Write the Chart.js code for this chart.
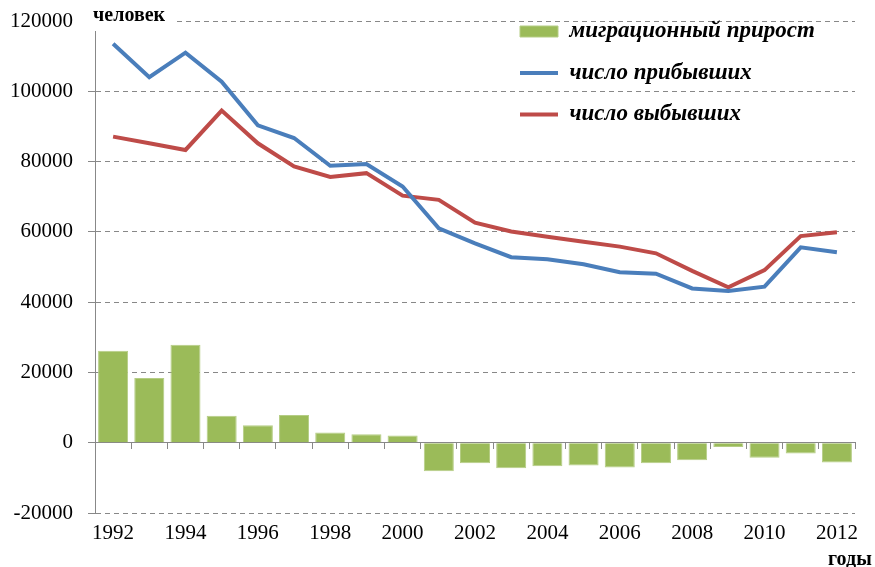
<!DOCTYPE html>
<html>
<head>
<meta charset="utf-8">
<script src="https://cdn.jsdelivr.net/npm/chart.js@4"></script>
<style>
  body { margin: 0; background: #fff; }
</style>
</head>
<body>
<canvas id="migrationChart" width="875" height="567"></canvas>
<script>
const years = ['1992','1993','1994','1995','1996','1997','1998','1999','2000','2001','2002',
               '2003','2004','2005','2006','2007','2008','2009','2010','2011','2012'];
const migrationGain = [26200, 18400, 27900, 7700, 5000, 7900, 2900, 2400, 2050, -8100, -5850,
                       -7250, -6700, -6500, -7050, -5850, -5000, -1200, -4300, -3100, -5650];
const arrivals = [113500, 104000, 111000, 102700, 90300, 86700, 78800, 79300, 72900, 61000, 56700,
                  52800, 52200, 50800, 48500, 48100, 43900, 43200, 44400, 55600, 54200];
const departures = [87100, 85200, 83300, 94500, 85200, 78600, 75600, 76700, 70300, 69100, 62600,
                    60100, 58600, 57200, 55800, 53900, 48900, 44200, 49100, 58800, 59900];
const seriesNames = ['миграционный прирост', 'число прибывших', 'число выбывших'];
const yTitle = 'человек';
const xTitle = 'годы';

const serif = '"Liberation Serif", "Times New Roman", serif';

// titles "человек" / "годы" and legend placement
const extraText = {
    id: 'extraText',
    afterLayout(chart) {
        const lg = chart.legend;
        const pad = lg.options.labels.padding;
        const h = lg.bottom - lg.top;
        const w = lg.right - lg.left;
        lg.left = 520 - pad;
        lg.right = lg.left + w + 300;
        lg.top = 20 - pad;
        lg.bottom = lg.top + h;
    },
    afterDraw(chart) {
        const ctx = chart.ctx;
        ctx.save();
        ctx.fillStyle = '#fff';
        ctx.fillRect(80, 4, 96, 27);
        ctx.fillStyle = '#000';
        ctx.font = 'bold 20px ' + serif;
        ctx.textBaseline = 'middle';
        ctx.fillText(yTitle, 93, 16);
        ctx.fillText(xTitle, 828, 560);
        ctx.restore();
    }
};

try {
    new Chart(document.getElementById('migrationChart'), {
        type: 'bar',
        data: {
            labels: years,
            datasets: [{
                label: seriesNames[0],
                data: migrationGain,
                backgroundColor: '#9BBB59',
                borderColor: '#B5CD85',
                borderWidth: 1,
                barPercentage: 1,
                categoryPercentage: 0.83
            }, {
                type: 'line',
                label: seriesNames[1],
                data: arrivals,
                borderColor: '#4A7EBB',
                backgroundColor: '#4A7EBB',
                borderWidth: 4,
                pointRadius: 0,
                tension: 0
            }, {
                type: 'line',
                label: seriesNames[2],
                data: departures,
                borderColor: '#BE4B48',
                backgroundColor: '#BE4B48',
                borderWidth: 4,
                pointRadius: 0,
                tension: 0
            }]
        },
        options: {
            responsive: false,
            animation: false,
            layout: { padding: { left: 0, right: 20, top: 21, bottom: 0 } },
            plugins: {
                tooltip: { enabled: false },
                legend: {
                    position: 'chartArea',
                    align: 'start',
                    labels: {
                        usePointStyle: true,
                        pointStyleWidth: 38,
                        boxHeight: 11,
                        padding: 18.5,
                        color: '#000',
                        font: { family: serif, size: 23, style: 'italic', weight: 'bold' },
                        generateLabels: (chart) => {
                            const items = Chart.defaults.plugins.legend.labels.generateLabels(chart);
                            items.forEach((it, i) => { it.pointStyle = i === 0 ? 'rect' : 'line'; });
                            return items;
                        }
                    }
                }
            },
            scales: {
                x: {
                    position: { y: 0 },
                    offset: true,
                    afterFit: (scale) => { scale.height = 0; },
                    ticks: { display: false },
                    grid: { offset: true, drawOnChartArea: false, tickLength: 6, color: '#888' },
                    border: { color: '#888', width: 1 }
                },
                x2: {
                    position: 'bottom',
                    offset: true,
                    afterFit: (scale) => { scale.height = 54; },
                    ticks: {
                        autoSkip: false,
                        maxRotation: 0,
                        padding: 8,
                        color: '#000',
                        font: { family: serif, size: 21 },
                        callback: (val, i) => (i % 2 === 0 ? years[i] : '')
                    },
                    grid: { display: false, drawTicks: false },
                    border: { display: false }
                },
                y: {
                    min: -20000,
                    max: 120000,
                    afterFit: (scale) => {
                        scale.width = 95;
                        scale.paddingTop = 0;
                        scale.paddingBottom = 0;
                    },
                    ticks: {
                        stepSize: 20000,
                        padding: 15,
                        color: '#000',
                        font: { family: serif, size: 21 },
                        callback: (v) => String(v)
                    },
                    grid: { color: '#888', tickLength: 7, tickBorderDash: [] },
                    border: { color: '#888', width: 1, dash: [5, 4] }
                }
            }
        },
        plugins: [extraText]
    });
} catch (e) { console.error('Crash in migrationChart', e); }
</script>
</body>
</html>
